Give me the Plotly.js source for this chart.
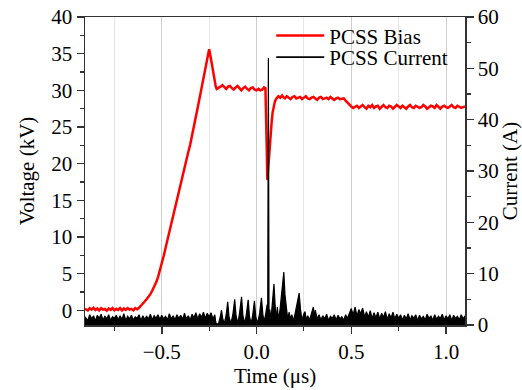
<!DOCTYPE html>
<html>
<head>
<meta charset="utf-8">
<script src="https://cdn.plot.ly/plotly-3.0.1.min.js"></script>
<style>html,body{margin:0;padding:0;background:#fff;}#chart{width:522px;height:390px;}</style>
</head>
<body>
<div id="chart"></div>
<script>
// PCSS Bias (voltage, kV)
var vTime = [-0.905,-0.89,-0.88,-0.87,-0.86,-0.85,-0.84,-0.83,-0.82,-0.81,-0.80,-0.79,-0.78,-0.77,-0.76,-0.75,-0.74,-0.73,-0.72,-0.71,-0.70,-0.69,-0.68,-0.67,-0.66,-0.65,-0.64,-0.63,-0.62,
  -0.61,-0.60,-0.59,-0.58,-0.57,-0.56,-0.55,-0.54,-0.53,-0.52,-0.51,-0.50,-0.49,-0.48,-0.47,-0.46,-0.45,-0.44,-0.43,-0.42,-0.41,-0.40,-0.39,-0.38,-0.37,-0.36,-0.35,-0.34,-0.33,-0.32,-0.31,-0.30,-0.29,-0.28,-0.27,-0.26,-0.255,-0.25,-0.245,-0.24,-0.235,-0.23,-0.225,-0.22,-0.215,-0.21,
  -0.20,-0.19,-0.18,-0.17,-0.16,-0.15,-0.14,-0.13,-0.12,-0.11,-0.10,-0.09,-0.08,-0.07,-0.06,-0.05,-0.04,-0.03,-0.02,-0.01,0.00,0.01,0.02,0.03,0.04,
  0.047,0.051,0.054,0.057,0.060,0.064,0.070,0.075,0.080,0.085,0.090,0.097,0.105,0.115,0.125,0.135,
  0.14,0.15,0.16,0.17,0.18,0.19,0.20,0.21,0.22,0.23,0.24,0.25,0.26,0.27,0.28,0.29,0.30,0.31,0.32,0.33,0.34,0.35,0.36,0.37,0.38,0.39,0.40,0.41,0.42,0.43,0.44,0.45,0.46,
  0.47,0.48,0.49,0.50,0.51,0.52,
  0.53,0.54,0.55,0.56,0.57,0.58,0.59,0.60,0.61,0.62,0.63,0.64,0.65,0.66,0.67,0.68,0.69,0.70,0.71,0.72,0.73,0.74,0.75,0.76,0.77,0.78,0.79,0.80,0.81,0.82,0.83,0.84,0.85,0.86,0.87,0.88,0.89,0.90,0.91,0.92,0.93,0.94,0.95,0.96,0.97,0.98,0.99,1.00,1.01,1.02,1.03,1.04,1.05,1.06,1.07,1.08,1.09,1.10];
var vVal = [0.2,0.0,0.3,0.1,0.35,0.05,0.25,0.0,0.3,0.1,0.2,-0.05,0.25,0.05,0.3,0.0,0.2,0.05,0.3,0.0,0.25,0.05,0.3,0.1,0.2,0.0,0.3,0.15,0.35,
  0.6,0.9,1.2,1.5,1.8,2.2,2.7,3.2,3.8,4.5,5.4,6.4,7.4,8.5,9.6,10.8,12.0,13.2,14.3,15.3,16.3,17.3,18.4,19.5,20.5,21.6,22.6,24.0,25.2,26.5,27.7,29.0,30.3,31.5,32.8,34.0,34.9,35.6,35.0,34.2,33.3,32.5,31.6,30.9,30.5,30.2,
  30.3,30.5,30.7,30.4,30.2,30.5,30.6,30.3,30.1,30.4,30.6,30.3,30.0,30.3,30.5,30.2,30.0,30.3,30.4,30.1,30.0,30.2,30.0,30.1,30.4,
  30.3,27.0,22.0,17.8,19.0,20.8,22.4,24.2,25.7,27.0,27.8,28.5,28.9,29.2,29.0,29.3,
  29.1,28.9,29.2,29.0,28.8,29.1,29.2,28.9,29.0,29.1,28.8,29.0,29.2,28.9,28.8,29.0,29.1,28.9,28.7,29.0,29.1,28.8,28.9,29.0,28.8,29.1,28.9,28.7,28.9,29.0,28.8,28.9,28.9,
  28.6,28.3,28.0,27.8,27.6,27.8,
  27.9,27.6,27.8,28.0,27.7,27.5,27.9,27.7,28.0,27.6,27.8,27.9,27.5,27.8,28.0,27.7,27.6,27.9,27.8,27.5,27.7,28.0,27.8,27.6,27.9,27.7,27.5,27.8,28.0,27.7,27.6,27.9,27.8,27.6,27.7,28.0,27.8,27.5,27.7,27.9,27.8,27.6,28.0,27.7,27.5,27.8,27.9,27.7,27.6,27.8,28.0,27.7,27.6,27.9,27.8,27.6,27.7,27.8];

// PCSS Current (A)
var cTime = [-0.905,-0.89,-0.88,-0.87,-0.86,-0.85,-0.84,-0.83,-0.82,-0.81,-0.80,-0.79,-0.78,-0.77,-0.76,-0.75,-0.74,-0.73,-0.72,-0.71,-0.70,-0.69,-0.68,-0.67,-0.66,-0.65,-0.64,-0.63,-0.62,-0.61,-0.60,-0.59,-0.58,-0.57,-0.56,-0.55,-0.54,-0.53,-0.52,-0.51,-0.50,-0.49,-0.48,-0.47,-0.46,-0.45,-0.44,-0.43,-0.42,-0.41,-0.40,-0.39,-0.38,-0.37,-0.36,-0.35,-0.34,-0.33,-0.32,-0.31,-0.30,-0.29,-0.28,-0.27,-0.26,-0.25,-0.24,-0.23,-0.22,-0.215,-0.21,
  -0.20,-0.19,-0.185,-0.178,-0.17,-0.16,-0.152,-0.145,-0.135,-0.125,-0.115,-0.108,-0.098,-0.09,-0.079,-0.072,-0.062,-0.054,-0.044,-0.037,-0.028,-0.02,-0.011,-0.004,0.006,0.016,0.026,0.034,0.042,0.050,0.056,0.059,0.0625,0.066,0.070,0.076,0.082,0.092,0.098,0.104,0.110,0.116,0.124,0.132,0.138,0.144,0.150,0.158,0.165,0.172,0.178,0.186,0.195,0.205,0.215,0.225,0.232,0.24,0.25,0.256,0.262,0.27,0.28,0.29,0.30,0.305,0.31,0.32,
  0.33,0.34,0.35,0.36,0.37,0.38,0.39,0.40,0.41,0.42,0.43,0.44,0.45,0.46,0.47,0.48,0.49,0.50,0.51,0.52,0.53,0.54,0.55,0.56,0.57,0.58,0.59,0.60,0.61,0.62,0.63,0.64,0.65,0.66,0.67,0.68,0.69,0.70,0.71,0.72,0.73,0.74,0.75,0.76,0.77,0.78,0.79,0.80,0.81,0.82,0.83,0.84,0.85,0.86,0.87,0.88,0.89,0.90,0.91,0.92,0.93,0.94,0.95,0.96,0.97,0.98,0.99,1.00,1.01,1.02,1.03,1.04,1.05,1.06,1.07,1.08,1.09,1.10];
var cVal = [1.6,0.9,2.0,1.2,1.8,0.8,1.9,1.3,2.1,1.0,1.7,1.2,2.0,0.9,1.6,1.3,1.9,1.0,1.8,1.1,2.2,0.9,1.7,1.2,1.9,1.0,1.6,1.3,2.0,0.9,1.8,1.1,1.7,1.2,2.1,1.0,1.8,1.3,2.0,1.1,1.9,1.2,1.7,1.0,2.2,1.2,1.8,1.0,2.0,1.3,1.9,1.1,2.3,1.2,1.8,1.0,2.1,1.4,2.4,1.2,2.2,1.5,2.5,1.3,2.3,1.6,2.4,1.2,2.0,0.5,0.2,
  0.3,1.8,2.9,1.2,0.3,2.0,4.5,1.5,0.3,2.0,5.0,1.8,0.3,2.2,5.5,1.8,0.3,2.0,4.9,1.6,0.3,2.0,4.7,1.6,0.3,2.2,5.3,1.8,0.8,2.5,4.0,1.5,52.0,1.2,3.0,1.0,3.5,8.0,4.0,1.0,3.5,1.0,3.0,5.5,8.5,10.3,6.0,2.5,1.0,2.5,1.2,2.0,0.8,2.5,4.5,6.2,3.0,1.0,2.2,2.6,1.0,1.8,1.0,2.4,3.5,1.4,2.9,1.2,
  2.0,1.0,1.8,1.2,2.1,0.9,1.7,1.3,2.0,1.0,1.9,1.2,1.6,0.9,2.0,1.3,2.2,3.2,2.0,3.5,1.8,3.0,2.2,3.3,1.6,2.6,1.5,2.8,1.3,2.4,1.4,2.5,1.2,2.3,1.5,2.6,1.1,2.2,1.4,2.5,1.2,2.1,1.3,2.0,1.0,1.9,1.2,2.2,1.0,1.8,1.3,2.0,0.9,1.9,1.2,1.7,1.0,2.1,1.3,1.8,0.9,2.0,1.1,1.7,1.3,2.1,1.0,1.8,1.2,2.0,0.9,1.9,1.3,1.7,1.0,2.0,1.2,1.8];

var fontFam = 'Liberation Serif';
var axisCol = '#333333';
var fs = 21;

var traces = [
  {x: vTime, y: vVal, type: 'scatter', mode: 'lines', name: 'PCSS Bias', legend: 'legend',
   line: {color: '#ff0000', width: 2.5}, xaxis: 'x', yaxis: 'y'},
  {x: cTime, y: cVal, type: 'scatter', mode: 'lines', name: 'PCSS Current', showlegend: false,
   line: {color: '#000000', width: 1.2}, fill: 'tozeroy', fillcolor: '#000000', xaxis: 'x', yaxis: 'y2'},
  {x: [null], y: [null], type: 'scatter', mode: 'lines', name: 'PCSS Current', legend: 'legend2',
   line: {color: '#000000', width: 1.6}, xaxis: 'x', yaxis: 'y2'}
];

var legendBase = {xanchor: 'left', yanchor: 'top', bgcolor: 'rgba(0,0,0,0)',
  font: {family: fontFam, size: fs, color: '#000'}, itemwidth: 48};

var layout = {
  width: 522, height: 390,
  margin: {l: 85, r: 57, t: 17, b: 65},
  paper_bgcolor: '#ffffff', plot_bgcolor: '#ffffff',
  font: {family: fontFam, size: fs, color: '#000'},
  showlegend: true,
  legend: Object.assign({x: 0.49, y: 1.005}, legendBase),
  legend2: Object.assign({x: 0.49, y: 0.935}, legendBase),
  xaxis: {
    range: [-0.905, 1.1], tickmode: 'linear', tick0: 0, dtick: 0.5, tickformat: '.1f',
    ticks: 'outside', ticklen: 7, tickwidth: 1.5, tickcolor: axisCol,
    showline: true, linecolor: axisCol, linewidth: 1.5, mirror: true,
    showgrid: true, gridcolor: '#cccccc', gridwidth: 1, zeroline: false,
    minor: {tickmode: 'linear', tick0: 0, dtick: 0.25, ticks: 'outside', ticklen: 4, tickcolor: axisCol, tickwidth: 1.2, showgrid: true, gridcolor: '#e6e6e6', gridwidth: 1},
    title: {text: 'Time (\u03bcs)', font: {family: fontFam, size: fs}, standoff: 4},
    tickfont: {family: fontFam, size: fs}
  },
  yaxis: {
    range: [-2, 40], tickmode: 'linear', tick0: 0, dtick: 5,
    ticks: 'outside', ticklen: 7, tickwidth: 1.5, tickcolor: axisCol,
    showline: true, linecolor: axisCol, linewidth: 1.5,
    showgrid: false, zeroline: false,
    minor: {tickmode: 'linear', tick0: 0, dtick: 2.5, ticks: 'outside', ticklen: 4, tickcolor: axisCol, tickwidth: 1.2, showgrid: false},
    title: {text: 'Voltage (kV)', font: {family: fontFam, size: fs}, standoff: 11},
    tickfont: {family: fontFam, size: fs}
  },
  yaxis2: {
    overlaying: 'y', side: 'right',
    range: [0, 60], tickmode: 'linear', tick0: 0, dtick: 10,
    ticks: 'outside', ticklen: 7, tickwidth: 1.5, tickcolor: axisCol,
    showline: true, linecolor: axisCol, linewidth: 1.5,
    showgrid: false, zeroline: false,
    minor: {tickmode: 'linear', tick0: 0, dtick: 5, ticks: 'outside', ticklen: 4, tickcolor: axisCol, tickwidth: 1.2, showgrid: false},
    title: {text: 'Current (A)', font: {family: fontFam, size: fs}, standoff: 4},
    tickfont: {family: fontFam, size: fs}
  }
};

Plotly.newPlot('chart', traces, layout, {displayModeBar: false, staticPlot: true});
</script>
</body>
</html>
